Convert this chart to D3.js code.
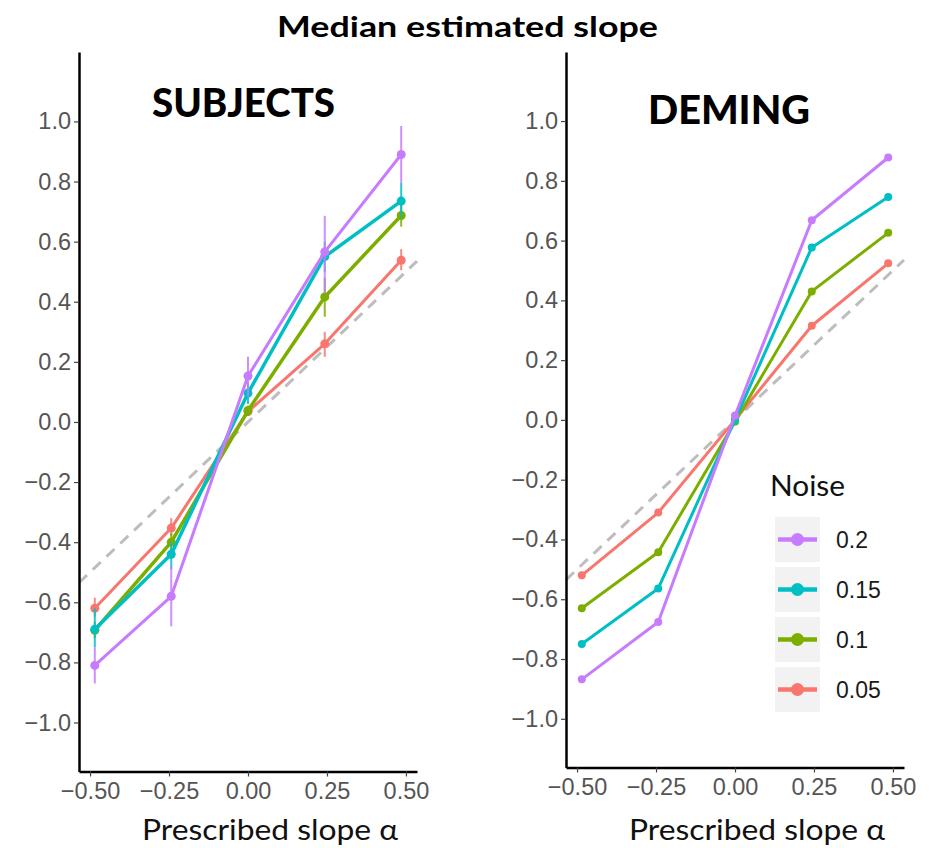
<!DOCTYPE html>
<html>
<head>
<meta charset="utf-8">
<script src="https://cdn.jsdelivr.net/npm/d3@7"></script>
<style>
  body { margin: 0; background: #ffffff; }
</style>
</head>
<body>
<div id="chart"></div>
<script>
// prescribed slopes used in the experiment (x positions)
const slopes = [-0.485, -0.243, 0, 0.243, 0.485];
const noiseLevels = ["0.05", "0.1", "0.15", "0.2"];
const noiseColors = ["#F8766D", "#7CAE00", "#00BFC4", "#C77CFF"];
const xTicks = [-0.5, -0.25, 0, 0.25, 0.5];
const yTicks = [-1.0, -0.8, -0.6, -0.4, -0.2, 0.0, 0.2, 0.4, 0.6, 0.8, 1.0];

// SUBJECTS: median estimated slope per noise level
const subjects005 = [-0.62, -0.353, 0.035, 0.26, 0.538];
const subjects010 = [-0.693, -0.40, 0.038, 0.416, 0.687];
const subjects015 = [-0.69, -0.44, 0.096, 0.55, 0.735];
const subjects020 = [-0.81, -0.58, 0.153, 0.566, 0.89];
// SUBJECTS: error bar ends
const subjectsLow005 = [-0.648, -0.38, 0.02, 0.217, 0.505];
const subjectsHigh005 = [-0.585, -0.32, 0.05, 0.30, 0.575];
const subjectsLow010 = [-0.72, -0.43, 0.02, 0.35, 0.65];
const subjectsHigh010 = [-0.665, -0.37, 0.055, 0.48, 0.73];
const subjectsLow015 = [-0.75, -0.49, 0.06, 0.50, 0.68];
const subjectsHigh015 = [-0.62, -0.40, 0.13, 0.60, 0.795];
const subjectsLow020 = [-0.87, -0.68, 0.085, 0.428, 0.795];
const subjectsHigh020 = [-0.75, -0.48, 0.217, 0.686, 0.985];

// DEMING: median estimated slope per noise level
const deming005 = [-0.52, -0.31, 0.0, 0.315, 0.524];
const deming010 = [-0.63, -0.443, -0.006, 0.43, 0.626];
const deming015 = [-0.75, -0.564, 0.0, 0.577, 0.746];
const deming020 = [-0.868, -0.676, 0.015, 0.668, 0.878];

const width = 937;
const height = 848;
const tickFont = "'Liberation Sans', Arial, sans-serif";
const titleFont = "Lato, 'Open Sans', sans-serif";

const svg = d3.select("#chart")
    .append("svg")
    .attr("width", width)
    .attr("height", height);

// main title (source picture is a bit stretched sideways, so fix the width)
svg.append("text")
    .attr("x", 277)
    .attr("y", 37)
    .attr("textLength", 381)
    .attr("lengthAdjust", "spacingAndGlyphs")
    .style("font-family", titleFont)
    .style("font-weight", "700")
    .style("font-size", "29px")
    .style("fill", "#000")
    .text("Median estimated slope");

const subjectsSeries = noiseLevels.map(function (n, i) {
    return {
        noise: n,
        color: noiseColors[i],
        values: [subjects005, subjects010, subjects015, subjects020][i],
        low: [subjectsLow005, subjectsLow010, subjectsLow015, subjectsLow020][i],
        high: [subjectsHigh005, subjectsHigh010, subjectsHigh015, subjectsHigh020][i],
        lineWidth: [3, 3.5, 3.5, 3][i]
    };
});

const demingSeries = noiseLevels.map(function (n, i) {
    return {
        noise: n,
        color: noiseColors[i],
        values: [deming005, deming010, deming015, deming020][i],
        lineWidth: 3
    };
});

const drawPanel = (opts) => {
    const x = d3.scaleLinear().domain([-0.535, 0.535]).range(opts.xRange);
    const y = d3.scaleLinear().domain([-1.163, 1.231]).range(opts.yRange);

    const g = svg.append("g");

    // identity reference line y = x
    const dom = x.domain();
    g.append("line")
        .attr("x1", x(dom[0]))
        .attr("y1", y(dom[0]))
        .attr("x2", x(dom[1]))
        .attr("y2", y(dom[1]))
        .style("stroke", "#BDBDBD")
        .style("stroke-width", 3)
        .style("stroke-dasharray", "11,8");

    const line = d3.line()
        .x(function (d) { return x(d[0]); })
        .y(function (d) { return y(d[1]); });

    opts.series.forEach(function (s) {
        const pts = slopes.map(function (v, i) { return [v, s.values[i]]; });
        // error bars
        if (s.low) {
            g.selectAll(null)
                .data(slopes)
                .enter()
                .append("line")
                .attr("x1", function (d) { return x(d); })
                .attr("x2", function (d) { return x(d); })
                .attr("y1", function (d, i) { return y(s.low[i]); })
                .attr("y2", function (d, i) { return y(s.high[i]); })
                .style("stroke", s.color)
                .style("stroke-width", 2)
                .style("opacity", 0.85);
        }
        g.append("path")
            .attr("d", line(pts))
            .attr("fill", "none")
            .style("stroke", s.color)
            .style("stroke-width", s.lineWidth)
            .style("stroke-linejoin", "round");
        g.selectAll(null)
            .data(pts)
            .enter()
            .append("circle")
            .attr("cx", function (d) { return x(d[0]); })
            .attr("cy", function (d) { return y(d[1]); })
            .attr("r", opts.pointRadius)
            .style("fill", s.color);
    });

    // axes
    const xAxis = g.append("g")
        .attr("transform", "translate(0," + opts.yRange[0] + ")")
        .call(d3.axisBottom(x)
            .tickValues(xTicks)
            .tickFormat(d3.format(".2f"))
            .tickSize(5)
            .tickSizeOuter(0)
            .tickPadding(6));
    const yAxis = g.append("g")
        .attr("transform", "translate(" + opts.xRange[0] + ",0)")
        .call(d3.axisLeft(y)
            .tickValues(yTicks)
            .tickFormat(d3.format(".1f"))
            .tickSize(5)
            .tickSizeOuter(0)
            .tickPadding(3));

    [xAxis, yAxis].forEach(function (a) {
        a.select(".domain")
            .style("stroke", "#000")
            .style("stroke-width", 2.5);
        a.selectAll(".tick line")
            .style("stroke", "#444")
            .style("stroke-width", 1.2);
        a.selectAll(".tick text")
            .style("font-family", tickFont)
            .style("font-size", "23.5px")
            .style("fill", "#555");
    });

    // panel label
    g.append("text")
        .attr("x", opts.labelX)
        .attr("y", opts.labelY)
        .attr("textLength", opts.labelWidth)
        .attr("lengthAdjust", "spacingAndGlyphs")
        .style("font-family", titleFont)
        .style("font-weight", "900")
        .style("font-size", "40px")
        .style("fill", "#000")
        .text(opts.label);

    // x axis title
    g.append("text")
        .attr("x", opts.xRange[0] + 63)
        .attr("y", 840)
        .attr("textLength", 256)
        .attr("lengthAdjust", "spacingAndGlyphs")
        .style("font-family", titleFont)
        .style("font-size", "28px")
        .style("fill", "#111")
        .text("Prescribed slope α");
};

drawPanel({
    xRange: [79, 417],
    yRange: [771.5, 52],
    series: subjectsSeries,
    pointRadius: 4.5,
    label: "SUBJECTS",
    labelX: 152,
    labelY: 117,
    labelWidth: 183
});

drawPanel({
    xRange: [566, 904],
    yRange: [767.5, 52],
    series: demingSeries,
    pointRadius: 4,
    label: "DEMING",
    labelX: 648,
    labelY: 124,
    labelWidth: 162
});

// legend
const legend = svg.append("g")
    .attr("transform", "translate(775,517)");

legend.append("text")
    .attr("x", -5)
    .attr("y", -21)
    .attr("textLength", 75)
    .attr("lengthAdjust", "spacingAndGlyphs")
    .style("font-family", titleFont)
    .style("font-size", "28px")
    .style("fill", "#111")
    .text("Noise");

const legendItems = noiseLevels.slice().reverse();
const keys = legend.selectAll(".key")
    .data(legendItems)
    .enter()
    .append("g")
    .attr("class", "key")
    .attr("transform", function (d, i) { return "translate(0," + (i * 50) + ")"; });

keys.append("rect")
    .attr("width", 45)
    .attr("height", 45)
    .style("fill", "#F2F2F2");
keys.append("line")
    .attr("x1", 3)
    .attr("x2", 42)
    .attr("y1", 22.5)
    .attr("y2", 22.5)
    .style("stroke", function (d) { return noiseColors[noiseLevels.indexOf(d)]; })
    .style("stroke-width", 4.5);
keys.append("circle")
    .attr("cx", 22.5)
    .attr("cy", 22.5)
    .attr("r", 6.5)
    .style("fill", function (d) { return noiseColors[noiseLevels.indexOf(d)]; });
keys.append("text")
    .attr("x", 61)
    .attr("y", 30.5)
    .style("font-family", tickFont)
    .style("font-size", "23px")
    .style("fill", "#1a1a1a")
    .text(function (d) { return d; });
</script>
</body>
</html>
